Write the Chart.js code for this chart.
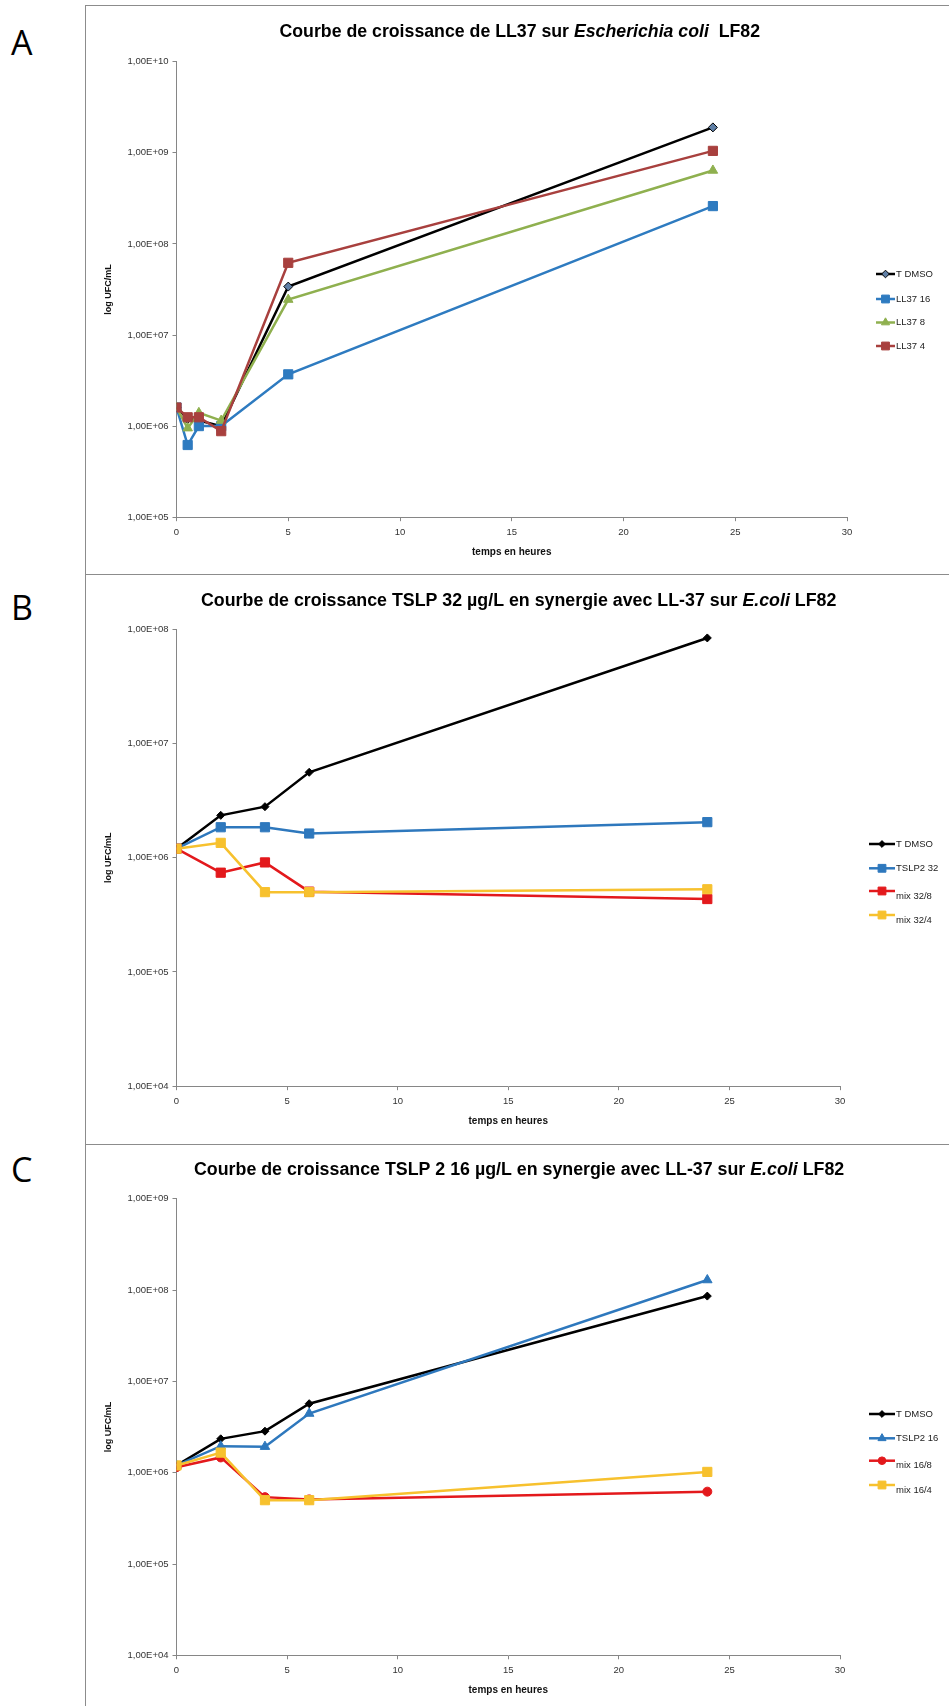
<!DOCTYPE html>
<html>
<head>
<meta charset="utf-8">
<script src="https://cdn.jsdelivr.net/npm/chart.js@4.4.1/dist/chart.umd.min.js"></script>
<style>
  html, body { margin: 0; padding: 0; background: #fff; }
  body { width: 949px; height: 1706px; position: relative; overflow: hidden; }
  .panel { position: absolute; left: 85px; width: 900px; border-left: 1px solid #8c8c8c; border-top: 1px solid #8c8c8c; }
  .letter { position: absolute; font-family: "Open Sans", sans-serif; font-size: 34px; line-height: 34px; color: #000; }
  .box { position: absolute; left: 0; width: 949px; }
</style>
</head>
<body>
<div class="panel" style="top:5px;height:569px"></div>
<div class="panel" style="top:574px;height:570px"></div>
<div class="panel" style="top:1144px;height:570px"></div>
<div class="letter" style="left:11px;top:25px">A</div>
<div class="letter" style="left:11px;top:590px">B</div>
<div class="letter" style="left:11px;top:1152px">C</div>
<div class="box" style="top:6px;height:568px"><canvas id="chartA"></canvas></div>
<div class="box" style="top:575px;height:569px"><canvas id="chartB"></canvas></div>
<div class="box" style="top:1145px;height:561px"><canvas id="chartC"></canvas></div>
<script>
// temps (heures)
const timesA = [0, 0.5, 1, 2, 5, 24];
const timesBC = [0, 2, 4, 6, 24];

// A : LL37 sur E. coli LF82 (UFC/mL)
const dmsoA = [1.6e6, 1.2e6, 1.15e6, 1.0e6, 3.4e7, 1.9e9];
const ll37_16 = [1.6e6, 6.2e5, 1.0e6, 1.0e6, 3.7e6, 2.6e8];
const ll37_8 = [1.6e6, 9.5e5, 1.4e6, 1.15e6, 2.45e7, 6.4e8];
const ll37_4 = [1.6e6, 1.25e6, 1.25e6, 8.8e5, 6.2e7, 1.05e9];

// B : TSLP 32 + LL-37
const dmsoB = [1.2e6, 2.35e6, 2.8e6, 5.6e6, 8.4e7];
const tslp32 = [1.2e6, 1.85e6, 1.85e6, 1.63e6, 2.05e6];
const mix32_8 = [1.2e6, 7.4e5, 9.1e5, 5.05e5, 4.35e5];
const mix32_4 = [1.2e6, 1.35e6, 5.0e5, 5.0e5, 5.3e5];

// C : TSLP2 16 + LL-37
const dmsoC = [1.2e6, 2.35e6, 2.85e6, 5.7e6, 8.6e7];
const tslp16 = [1.2e6, 1.95e6, 1.93e6, 4.45e6, 1.29e8];
const mix16_8 = [1.15e6, 1.47e6, 5.4e5, 5.1e5, 6.2e5];
const mix16_4 = [1.2e6, 1.66e6, 5.0e5, 5.0e5, 1.02e6];

// axes
const xTicks = [0, 5, 10, 15, 20, 25, 30];
const yTicksA = [1e5, 1e6, 1e7, 1e8, 1e9, 1e10];
const yLabelsA = ["1,00E+05", "1,00E+06", "1,00E+07", "1,00E+08", "1,00E+09", "1,00E+10"];
const yTicksB = [1e4, 1e5, 1e6, 1e7, 1e8];
const yLabelsB = ["1,00E+04", "1,00E+05", "1,00E+06", "1,00E+07", "1,00E+08"];
const yTicksC = [1e4, 1e5, 1e6, 1e7, 1e8, 1e9];
const yLabelsC = ["1,00E+04", "1,00E+05", "1,00E+06", "1,00E+07", "1,00E+08", "1,00E+09"];

const FONT = "'Liberation Sans', Arial, sans-serif";
const AXIS = "#868686";

const pts = (xs, ys) => ys.map((y, i) => ({ x: xs[i], y: y }));

// titre avec parties en italique
const richTitle = {
  id: "richTitle",
  afterDraw(chart, args, o) {
    const ctx = chart.ctx;
    ctx.save();
    const font = (it, s) => (it ? "italic " : "") + "bold " + s + "px " + FONT;
    let total = 0;
    o.parts.forEach(p => { ctx.font = font(p[1], 20); total += ctx.measureText(p[0]).width; });
    const size = 20 * o.width / total;
    let x = o.cx - o.width / 2;
    ctx.textBaseline = "middle";
    ctx.fillStyle = "#000";
    o.parts.forEach(p => {
      ctx.font = font(p[1], size);
      ctx.fillText(p[0], x, o.cy);
      x += ctx.measureText(p[0]).width;
    });
    ctx.restore();
  }
};

// légende : trait + marqueur
const lineLegend = {
  id: "lineLegend",
  afterDraw(chart, args, o) {
    const ctx = chart.ctx;
    chart.data.datasets.forEach((ds, i) => {
      const y = o.rows[i];
      ctx.save();
      ctx.strokeStyle = ds.borderColor;
      ctx.lineWidth = ds.borderWidth;
      ctx.beginPath();
      ctx.moveTo(o.x0, y);
      ctx.lineTo(o.x1, y);
      ctx.stroke();
      ctx.fillStyle = ds.pointBackgroundColor;
      ctx.strokeStyle = ds.pointBorderColor;
      ctx.lineWidth = 1;
      Chart.helpers.drawPoint(ctx, { pointStyle: ds.pointStyle, radius: ds.pointRadius * 0.85, borderWidth: 1, rotation: 0 }, (o.x0 + o.x1) / 2, y);
      ctx.fillStyle = "#222";
      ctx.font = "9.5px " + FONT;
      ctx.textBaseline = "middle";
      ctx.fillText(ds.label, o.x1 + 1, y + (o.shift ? o.shift[i] : 0));
      ctx.restore();
    });
  }
};

function series(label, xs, ys, color, style, radius, fill, order) {
  return {
    label: label,
    data: pts(xs, ys),
    borderColor: color,
    borderWidth: 2.5,
    pointStyle: style,
    pointRadius: radius,
    pointBackgroundColor: fill || color,
    pointBorderColor: color,
    pointBorderWidth: 1,
    tension: 0,
    order: order
  };
}

function makeChart(id, datasets, p) {
  return new Chart(document.getElementById(id), {
    type: "line",
    data: { datasets: datasets },
    plugins: [richTitle, lineLegend],
    options: {
      responsive: true,
      maintainAspectRatio: false,
      animation: false,
      layout: { padding: { left: 100, right: 949 - p.right, top: p.top, bottom: 0 } },
      plugins: {
        legend: { display: false },
        tooltip: { enabled: false },
        richTitle: { parts: p.title, cx: p.titleX, cy: p.titleY, width: p.titleW },
        lineLegend: { rows: p.rows, x0: p.legX0, x1: 895, shift: p.shift }
      },
      scales: {
        x: {
          type: "linear",
          min: 0,
          max: 30,
          afterBuildTicks: s => { s.ticks = xTicks.map(v => ({ value: v })); },
          afterFit: s => { s.height = p.xHeight; },
          grid: { display: true, drawOnChartArea: false, drawTicks: true, tickLength: 4, color: AXIS },
          border: { color: AXIS, width: 1 },
          ticks: { font: { family: FONT, size: 9.5 }, color: "#333", padding: 5, maxRotation: 0, autoSkip: false },
          title: { display: true, text: "temps en heures", color: "#111", font: { family: FONT, size: 10, weight: "bold" }, padding: { top: 0, bottom: p.xTitlePad } }
        },
        y: {
          type: "logarithmic",
          min: p.yTicks[0],
          max: p.yTicks[p.yTicks.length - 1],
          afterBuildTicks: s => { s.ticks = p.yTicks.map(v => ({ value: v })); },
          afterFit: s => { s.width = 76.5; },
          grid: { display: true, drawOnChartArea: false, drawTicks: true, tickLength: 4, color: AXIS },
          border: { color: AXIS, width: 1 },
          ticks: {
            font: { family: FONT, size: 9.5 }, color: "#333", padding: 4,
            callback: v => p.yLabels[p.yTicks.indexOf(v)]
          },
          title: { display: true, text: "log UFC/mL", color: "#111", font: { family: FONT, size: 9, weight: "bold" }, padding: { top: 3.6, bottom: 0 } }
        }
      }
    }
  });
}

makeChart("chartA", [
  series("T DMSO", timesA, dmsoA, "#000000", "rectRot", 4.5, "#5f7fa6", 4),
  series("LL37 16", timesA, ll37_16, "#2e7bc0", "rect", 6.5, null, 3),
  series("LL37 8", timesA, ll37_8, "#8fb04f", "triangle", 5.5, null, 2),
  series("LL37 4", timesA, ll37_4, "#a8403e", "rect", 6.5, null, 1)
], {
  title: [["Courbe de croissance de LL37 sur ", false], ["Escherichia coli", true], ["  LF82", false]],
  titleX: 520, titleY: 26.6, titleW: 481,
  top: 55.7, xHeight: 56.8, right: 847, xTitlePad: 16,
  yTicks: yTicksA, yLabels: yLabelsA,
  rows: [268, 293, 316.5, 340], legX0: 876
});

makeChart("chartB", [
  series("T DMSO", timesBC, dmsoB, "#000000", "rectRot", 4, null, 4),
  series("TSLP2 32", timesBC, tslp32, "#2e78bd", "rect", 6.5, null, 3),
  series("mix 32/8", timesBC, mix32_8, "#e3191c", "rect", 6.5, null, 2),
  series("mix 32/4", timesBC, mix32_4, "#f7c12e", "rect", 6.5, null, 1)
], {
  title: [["Courbe de croissance TSLP 32 µg/L en synergie avec LL-37 sur ", false], ["E.coli", true], [" LF82", false]],
  titleX: 519, titleY: 26, titleW: 636,
  top: 54.3, xHeight: 57.8, right: 840, xTitlePad: 16.6,
  yTicks: yTicksB, yLabels: yLabelsB,
  rows: [269, 293.3, 316, 340], legX0: 869, shift: [0, 0, 5, 5]
});

makeChart("chartC", [
  series("T DMSO", timesBC, dmsoC, "#000000", "rectRot", 4, null, 4),
  series("TSLP2 16", timesBC, tslp16, "#2e78bd", "triangle", 5.5, null, 3),
  series("mix 16/8", timesBC, mix16_8, "#e3191c", "circle", 4.5, null, 2),
  series("mix 16/4", timesBC, mix16_4, "#f7c12e", "rect", 6.5, null, 1)
], {
  title: [["Courbe de croissance TSLP 2 16 µg/L en synergie avec LL-37 sur ", false], ["E.coli", true], [" LF82", false]],
  titleX: 519.5, titleY: 25, titleW: 651,
  top: 53.8, xHeight: 50.7, right: 840, xTitlePad: 9.5,
  yTicks: yTicksC, yLabels: yLabelsC,
  rows: [269, 293.3, 315.7, 340], legX0: 869, shift: [0, 0, 5, 5]
});
</script>
</body>
</html>
